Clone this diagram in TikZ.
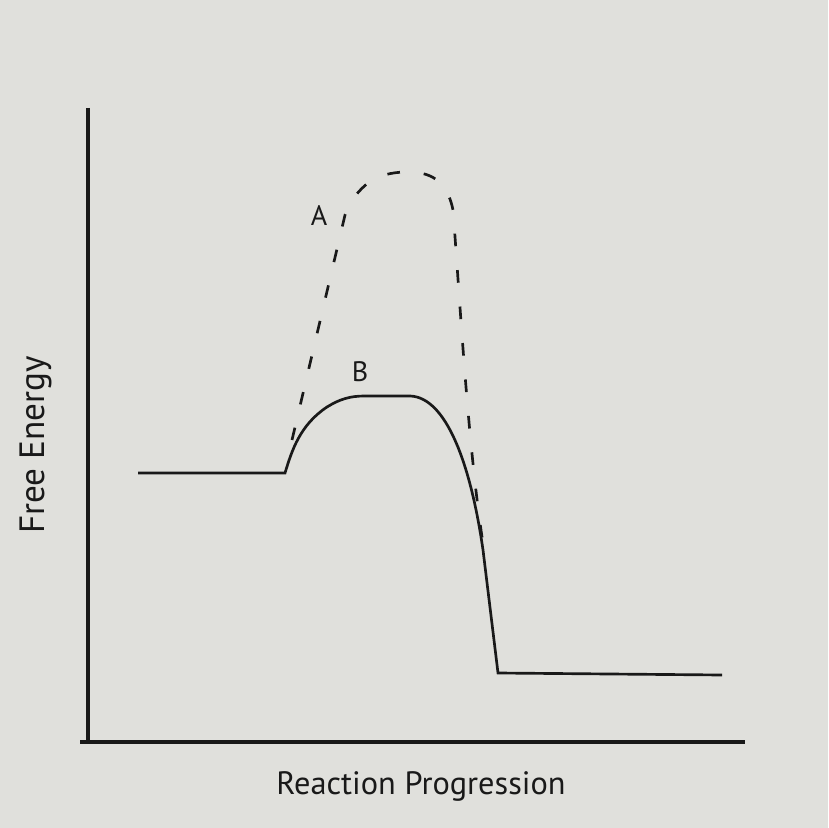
\documentclass[tikz,border=0pt]{standalone}
\usepackage{xcolor}
\usepackage{fontspec}
\setmainfont{PT Sans}
\usepackage{tikz}
\definecolor{paper}{RGB}{224,224,220}
\definecolor{ink}{RGB}{25,25,25}

\begin{document}
\begin{tikzpicture}[x=0.0125cm, y=-0.0125cm]
             \fill[paper] (0,0) rectangle (828,828);
             \useasboundingbox (0,0) rectangle (828,828);

             % axes
             \draw[ink, line width=1.4pt] (88,108) -- (88,742);
             \draw[ink, line width=1.4pt] (80,742) -- (745,742);

             \node[draw=none, text=ink, rotate=90] (ylabel) at (36,445) {\fontsize{12.5}{14}\selectfont Free Energy};
             \node[draw=none, text=ink] (xlabel) at (421,786) {\fontsize{11.5}{13}\selectfont Reaction Progression};

             % catalysed path B
             \draw[ink, line width=0.95pt] (138,473) -- (285,473)
                  .. controls (292,450) and (300,425) .. (327,407)
                  .. controls (340,399) and (350,396) .. (365,396) -- (410,396)
                  .. controls (445,397) and (470,460) .. (483,550) -- (498,673) -- (722,675);

             % uncatalysed path A
             \draw[ink, line width=0.95pt, dash pattern=on 4.5pt off 8.5pt] (292,440) -- (345,215)
                  .. controls (360,178) and (385,172) .. (408,172)
                  .. controls (430,172) and (447,180) .. (453,210)
                  .. controls (460,300) and (468,450) .. (484,550);

             \node[draw=none, text=ink] (lblA) at (319,216) {\fontsize{10}{12}\selectfont A};
             \node[draw=none, text=ink] (lblB) at (360,372) {\fontsize{10}{12}\selectfont B};
\end{tikzpicture}
\end{document}
